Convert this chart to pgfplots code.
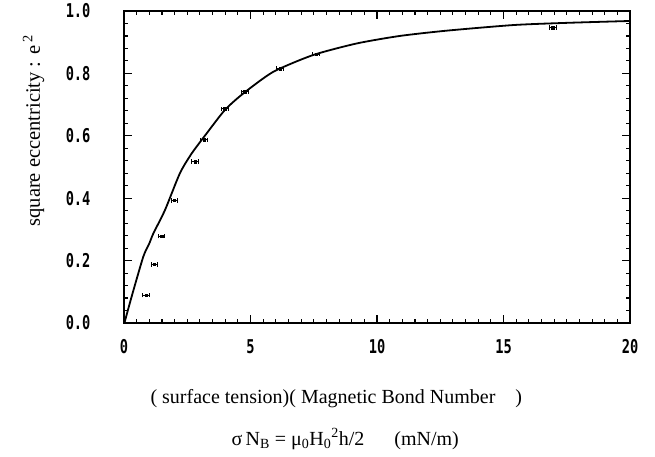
\documentclass[border=0pt]{standalone}
\usepackage{fontspec}
\setmainfont{Liberation Serif}
\newfontfamily\tickfont[FakeStretch=0.72]{DejaVu Sans Mono}
\usepackage{pgfplots}
\usepackage{pgfplotstable}
\pgfplotsset{compat=1.18}
\usetikzlibrary{calc}

% measured points
\pgfplotstableread{
x y
0.87 0.089
1.20 0.188
1.49 0.278
1.99 0.393
2.81 0.517
3.17 0.587
3.99 0.686
4.78 0.741
6.17 0.816
7.59 0.862
16.95 0.947
}\meas

% fitted curve
\pgfplotstableread{
x y
0.00 -0.005
0.30 0.084
0.76 0.212
1.00 0.255
1.16 0.287
1.62 0.362
2.21 0.480
2.68 0.544
3.27 0.608
3.99 0.683
4.72 0.736
5.90 0.805
7.48 0.859
9.20 0.896
10.90 0.920
12.76 0.937
15.40 0.955
17.50 0.962
20.00 0.968
}\fit

\begin{document}
\begin{tikzpicture}
\begin{axis}[
    name=ax,
    scale only axis,
    width=506pt, height=312pt,
    xmin=0, xmax=20, ymin=0, ymax=1,
    xtick={0,5,10,15,20},
    ytick={0,0.2,0.4,0.6,0.8,1.0},
    minor x tick num=9,
    minor y tick num=4,
    tick align=inside,
    major tick length=8pt,
    minor tick length=4pt,
    every tick/.style={line width=1.1pt, black},
    axis line style={line width=1.6pt},
    tick label style={font=\tickfont\bfseries\fontsize{19}{19}\selectfont},
    /pgf/number format/assume math mode=true,
    yticklabel style={xshift=-30pt, /pgf/number format/fixed, /pgf/number format/fixed zerofill, /pgf/number format/precision=1},
    xticklabel style={yshift=-13pt},
]
\addplot[black, line width=1.8pt, smooth, tension=0.4] table {\fit};
\addplot[black, only marks, mark=square*, mark size=1.3pt,
    error bars/.cd, x dir=both, x fixed=0.13,
    error bar style={line width=1pt}, error mark options={rotate=90, mark size=2.2pt, line width=1pt}]
    table {\meas};
\end{axis}
\node[rotate=90, anchor=base west, font=\fontsize{20.5}{20.5}\selectfont]
    at ($(ax.south west)+(-84pt,93pt)$) {square eccentricity : e\,\textsuperscript{2}};
\node[anchor=base west, font=\fontsize{20}{20}\selectfont]
    at ($(ax.south west)+(23pt,-80pt)$) {( surface tension)( Magnetic Bond Number\quad )};
\node[anchor=base west, font=\fontsize{20}{20}\selectfont]
    at ($(ax.south west)+(104pt,-122pt)$) {σ\,N\textsubscript{B} = μ\textsubscript{0}H\textsubscript{0}\textsuperscript{2}h/2\hspace{30pt}(mN/m)};
\pgfresetboundingbox
\path ($(ax.south west)+(-124pt,-134pt)$) rectangle ($(ax.north east)+(25pt,11pt)$);
\end{tikzpicture}
\end{document}
